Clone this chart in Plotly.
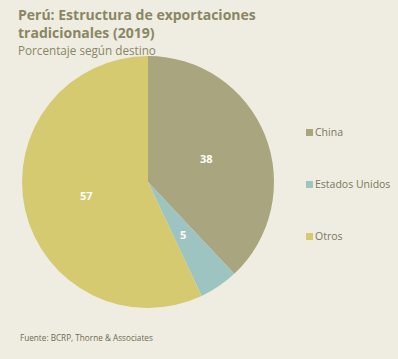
import math
import plotly.graph_objects as go

labels = ["China", "Estados Unidos", "Otros"]
values = [38, 5, 57]
colors = ["#A9A57F", "#9EC4C2", "#D5CA6F"]

W, H = 398, 359
bg = "#EFEDE1"
txt = "#8A8663"

# pie domain (pixels)
px0, px1, py0, py1 = 22, 274, 56, 308

fig = go.Figure()
fig.add_trace(go.Pie(
    labels=labels, values=values, sort=False, direction="clockwise", rotation=0,
    marker=dict(colors=colors, line=dict(width=0)),
    textinfo="none",
    domain=dict(x=[px0 / W, px1 / W], y=[1 - py1 / H, 1 - py0 / H]),
    showlegend=False, hoverinfo="label+value",
))

annotations = [
    dict(text="<b>Perú: Estructura de exportaciones<br>tradicionales (2019)</b>",
         x=17 / W, y=1 - 4 / H, xanchor="left", yanchor="top", align="left",
         font=dict(size=14, color=txt, family="Open Sans")),
    dict(text="Porcentaje según destino",
         x=17 / W, y=1 - 41 / H, xanchor="left", yanchor="top", align="left",
         font=dict(size=11.7, color=txt, family="Open Sans")),
    dict(text="Fuente: BCRP, Thorne & Associates",
         x=19 / W, y=1 - 331 / H, xanchor="left", yanchor="top", align="left",
         font=dict(size=8.2, color="#6E6B55", family="Open Sans")),
]

# value labels at half radius along each slice's mid angle
cx, cy, R = (px0 + px1) / 2, (py0 + py1) / 2, (px1 - px0) / 2
total = sum(values)
cum = 0
for v in values:
    ang = 2 * math.pi * (cum + v / 2) / total
    cum += v
    x = cx + 0.5 * R * math.sin(ang)
    y = cy - 0.5 * R * math.cos(ang)
    annotations.append(dict(text=f"<b>{v}</b>", x=x / W, y=1 - y / H,
                            xanchor="center", yanchor="middle",
                            font=dict(size=11, color="white", family="Open Sans")))

shapes = []
leg_y = [132, 184, 236]
for lab, col, yy in zip(labels, colors, leg_y):
    shapes.append(dict(type="rect", xref="paper", yref="paper",
                       x0=306 / W, x1=313 / W, y0=1 - (yy + 4) / H, y1=1 - (yy - 3) / H,
                       fillcolor=col, line=dict(width=0)))
    annotations.append(dict(text=lab, x=314 / W, y=1 - yy / H, xanchor="left", yanchor="middle",
                            font=dict(size=10.5, color="#7A7760", family="Open Sans")))

for a in annotations:
    a.update(xref="paper", yref="paper", showarrow=False, borderpad=0)

fig.update_layout(width=W, height=H, margin=dict(l=0, r=0, t=0, b=0),
                  paper_bgcolor=bg, plot_bgcolor=bg,
                  annotations=annotations, shapes=shapes)
fig.write_html("out.html", config={"displayModeBar": False},
               post_script="document.body.style.margin='0';document.body.style.overflow='hidden';")
